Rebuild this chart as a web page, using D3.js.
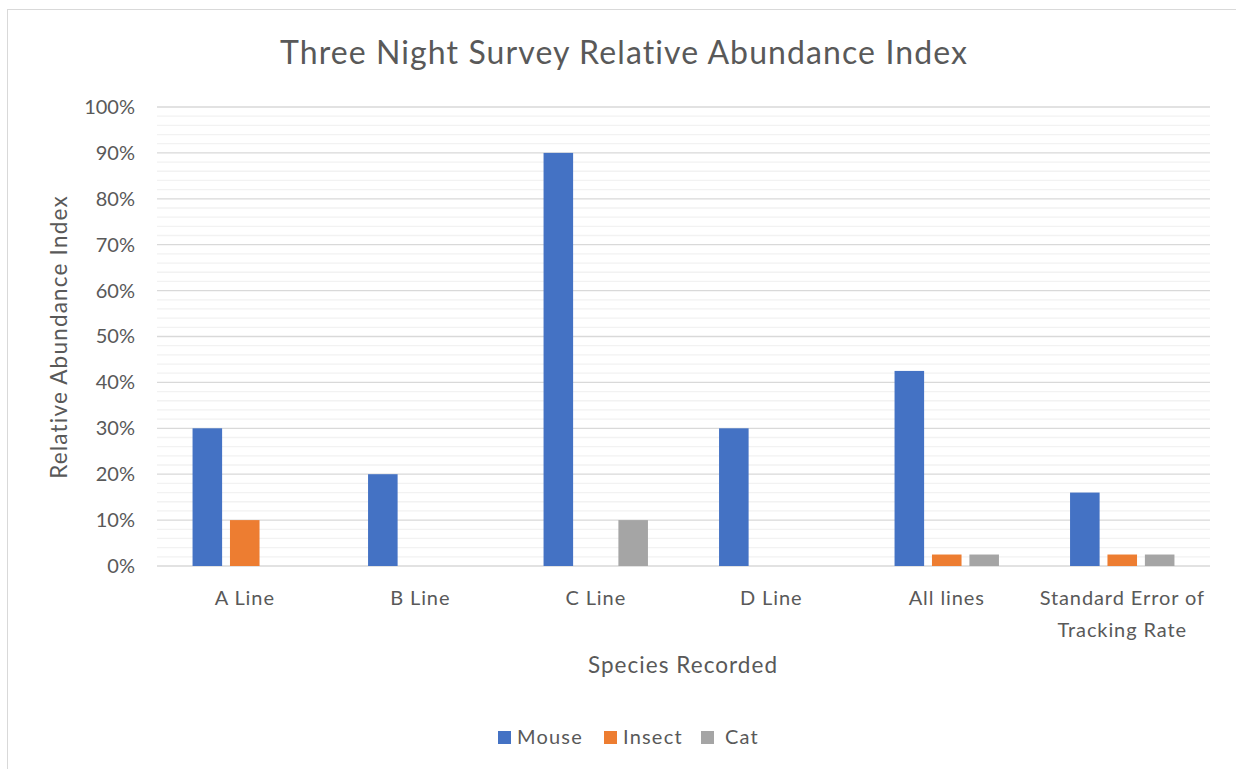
<!DOCTYPE html>
<html><head><meta charset="utf-8">
<script src="https://cdn.jsdelivr.net/npm/d3@7"></script>
<style>
body{margin:0;background:#fff;}
text{font-family:"Lato",sans-serif;fill:#595959;}
</style></head>
<body><svg id="c" width="1236" height="769"></svg>
<script>
const categories = ["A Line","B Line","C Line","D Line","All lines","Standard Error of Tracking Rate"];
const seriesNames = ["Mouse","Insect","Cat"];
const mouse = [30,20,90,30,42.5,16];
const insect = [10,0,0,0,2.5,2.5];
const cat = [0,0,10,0,2.5,2.5];
const colors = ["#4472C4","#ED7D31","#A5A5A5"];
const yTicks = [0,10,20,30,40,50,60,70,80,90,100];

const svg = d3.select("#c");
svg.append("rect").attr("x",7.5).attr("y",9.5).attr("width",1240).attr("height",780)
  .attr("fill","#fff").attr("stroke","#d9d9d9");

const L=157,R=1210,T=107,B=566;
const y = d3.scaleLinear().domain([0,100]).range([B,T]);
const x0 = d3.scaleBand().domain(categories).range([L,R]);
const x1 = d3.scaleBand().domain(seriesNames).range([0,x0.bandwidth()]).paddingInner(0.21).paddingOuter(0.95);

// minor gridlines
svg.append("g").selectAll("line").data(d3.range(0,101,2).filter(v=>v%10!==0)).join("line")
  .attr("x1",L).attr("x2",R).attr("y1",d=>y(d)).attr("y2",d=>y(d))
  .attr("stroke","#f2f2f2").attr("stroke-width",1.3);
// major gridlines
svg.append("g").selectAll("line").data(yTicks).join("line")
  .attr("x1",L).attr("x2",R).attr("y1",d=>y(d)).attr("y2",d=>y(d))
  .attr("stroke","#d9d9d9").attr("stroke-width",1.3);

// y axis labels
const yAxis = d3.axisLeft(y).tickValues(yTicks).tickFormat(d=>d+"%").tickSize(0).tickPadding(22);
const ya = svg.append("g").attr("transform",`translate(${L},0)`).call(yAxis);
ya.select(".domain").remove();
ya.selectAll("text").style("font-size","20px").attr("fill","#595959").attr("font-family",null);

// bars
const data = [mouse,insect,cat];
const g = svg.append("g");
categories.forEach((c,i)=>{
  seriesNames.forEach((s,j)=>{
    const v = data[j][i];
    if(v>0){
      g.append("rect").attr("x",x0(c)+x1(s)).attr("width",x1.bandwidth())
        .attr("y",y(v)).attr("height",y(0)-y(v)).attr("fill",colors[j]);
    }
  });
});

// x axis labels
const xAxis = d3.axisBottom(x0).tickSize(0).tickPadding(25);
const xa = svg.append("g").attr("transform",`translate(0,${B})`).call(xAxis);
xa.select(".domain").remove();
xa.selectAll(".tick text").style("font-size","20px").style("letter-spacing","0.9px")
  .attr("fill","#595959").attr("font-family",null)
  .each(function(d){
    if(d==="Standard Error of Tracking Rate"){
      const t=d3.select(this); t.text(null);
      t.append("tspan").attr("x",0).attr("dy","0.71em").text("Standard Error of");
      t.append("tspan").attr("x",0).attr("dy","1.58em").text("Tracking Rate");
      t.attr("dy",null);
    }
  });

// title
svg.append("text").attr("x",624).attr("y",64).attr("text-anchor","middle")
  .style("font-size","32px").style("letter-spacing","1.1px").text("Three Night Survey Relative Abundance Index");
// axis titles
svg.append("text").attr("x",683).attr("y",673).attr("text-anchor","middle")
  .style("font-size","22.5px").style("letter-spacing","1.05px").text("Species Recorded");
svg.append("text").attr("transform","translate(67,337) rotate(-90)").attr("text-anchor","middle")
  .style("font-size","22.5px").style("letter-spacing","1.2px").text("Relative Abundance Index");

// legend
const leg = [{n:"Mouse",x:498},{n:"Insect",x:604},{n:"Cat",x:701}];
leg.forEach((d,i)=>{
  svg.append("rect").attr("x",d.x).attr("y",731).attr("width",13).attr("height",13).attr("fill",colors[i]);
  svg.append("text").attr("x",d.x+(i===2?24:19)).attr("y",744).style("font-size","20px")
    .style("letter-spacing","1.2px").text(d.n);
});
</script></body></html>
